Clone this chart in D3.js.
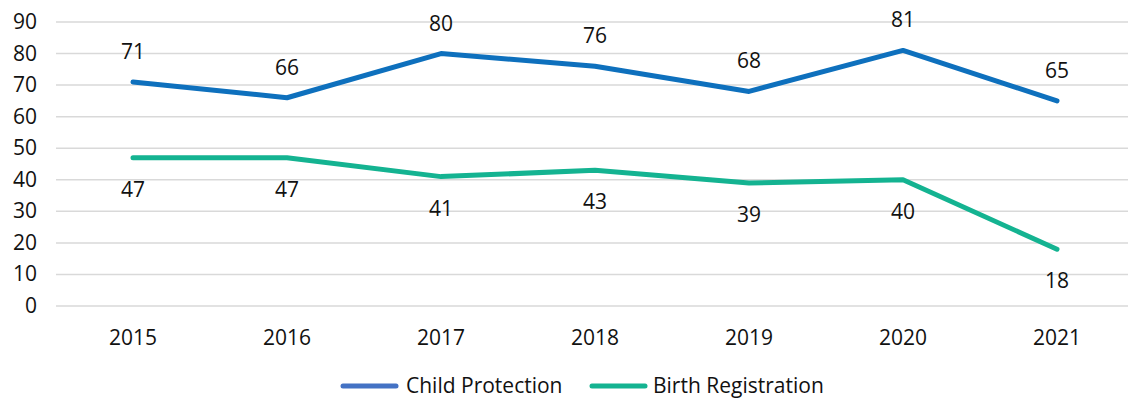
<!DOCTYPE html>
<html>
<head>
<meta charset="utf-8">
<script src="https://cdn.jsdelivr.net/npm/d3@7"></script>
<style>
  body { margin: 0; background: #fff; }
  text { font-family: "Open Sans", Lato, sans-serif; fill: #111; }
</style>
</head>
<body>
<div id="root"></div>
<script>
var years = ["2015", "2016", "2017", "2018", "2019", "2020", "2021"]
var childProtection = [71, 66, 80, 76, 68, 81, 65]
var birthRegistration = [47, 47, 41, 43, 39, 40, 18]
var yTicks = [0, 10, 20, 30, 40, 50, 60, 70, 80, 90]

var width = 1128, height = 401
var svg = d3.select("#root").append("svg")
    .attr("width", width)
    .attr("height", height)

var x = d3.scaleBand().domain(years).range([56, 1134])
var y = d3.scaleLinear().domain([0, 90]).range([306, 22])

// gridlines
svg.append("g").selectAll("line")
    .data(yTicks).enter().append("line")
    .attr("x1", 56).attr("x2", width)
    .attr("y1", function (d) { return y(d) })
    .attr("y2", function (d) { return y(d) })
    .attr("stroke", "#d9d9d9")
    .attr("stroke-width", 1.5)

// y labels
svg.append("g").selectAll("text")
    .data(yTicks).enter().append("text")
    .attr("x", 37)
    .attr("y", function (d) { return y(d) + 7 })
    .attr("text-anchor", "end")
    .style("font-size", "21px")
    .text(function (d) { return d })

// x labels
svg.append("g").selectAll("text")
    .data(years).enter().append("text")
    .attr("x", function (d) { return x(d) + x.bandwidth() / 2 })
    .attr("y", 345)
    .attr("text-anchor", "middle")
    .style("font-size", "21px")
    .text(function (d) { return d })

var series = [
    { name: "Child Protection", values: childProtection, color: "#0e70bd", legend: "#4472c4", dy: -23 },
    { name: "Birth Registration", values: birthRegistration, color: "#14b391", legend: "#14b391", dy: 39 }
]

var line = d3.line()
    .x(function (d, i) { return x(years[i]) + x.bandwidth() / 2 })
    .y(function (d) { return y(d) })

series.forEach(function (s) {
    svg.append("path")
        .attr("d", line(s.values))
        .attr("fill", "none")
        .attr("stroke", s.color)
        .attr("stroke-width", 5)
        .attr("stroke-linecap", "round")
        .attr("stroke-linejoin", "round")

    svg.append("g").selectAll("text")
        .data(s.values).enter().append("text")
        .attr("x", function (d, i) { return x(years[i]) + x.bandwidth() / 2 })
        .attr("y", function (d) { return y(d) + s.dy })
        .attr("text-anchor", "middle")
        .style("font-size", "21px")
        .text(function (d) { return d })
})

// legend
var legendPos = [{ lx: 343, tx: 406 }, { lx: 592, tx: 653 }]
series.forEach(function (s, i) {
    svg.append("line")
        .attr("x1", legendPos[i].lx).attr("x2", legendPos[i].lx + 53)
        .attr("y1", 386).attr("y2", 386)
        .attr("stroke", s.legend)
        .attr("stroke-width", 5)
        .attr("stroke-linecap", "round")
    svg.append("text")
        .attr("x", legendPos[i].tx)
        .attr("y", 393)
        .style("font-size", "21px")
        .text(s.name)
})
</script>
</body>
</html>
